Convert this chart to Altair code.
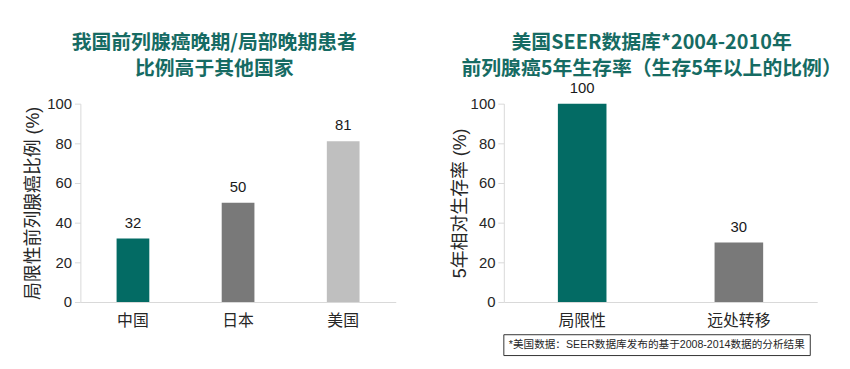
import altair as alt
import pandas as pd

# ---- data ----
left_title = ["我国前列腺癌晚期/局部晚期患者", "比例高于其他国家"]
left_cats = ["中国", "日本", "美国"]
left_vals = [32, 50, 81]
left_colors = ["#036B64", "#797979", "#BFBFBF"]
left_ytitle = "局限性前列腺癌比例 (%)"

right_title = ["美国SEER数据库*2004-2010年", "前列腺癌5年生存率（生存5年以上的比例）"]
right_cats = ["局限性", "远处转移"]
right_vals = [100, 30]
right_colors = ["#036B64", "#797979"]
right_ytitle = "5年相对生存率 (%)"

footnote = ["*美国数据：SEER数据库发布的基于2008-2014数据的分析结果"]
y_ticks = [0, 20, 40, 60, 80, 100]

FONT = "Liberation Sans, Noto Sans CJK SC, sans-serif"
TITLE_FONT = "Noto Sans CJK SC"
TEAL_TITLE = "#166B63"


def panel(cats, vals, colors, ytitle, title, width, barsize, dx, offset, tpad):
    df = pd.DataFrame({"cat": cats, "val": vals, "color": colors})
    base = alt.Chart(df).encode(
        x=alt.X(
            "cat:N",
            sort=cats,
            axis=alt.Axis(
                title=None, labelAngle=0, ticks=False, labelPadding=11,
                labelFontSize=16, labelColor="#262626", labelFont=FONT,
                domainColor="#D9D9D9",
            ),
        ),
        y=alt.Y(
            "val:Q",
            scale=alt.Scale(domain=[0, 100]),
            axis=alt.Axis(
                title=ytitle, values=y_ticks, grid=False, tickSize=6,
                tickColor="#D9D9D9", domainColor="#D9D9D9", labelPadding=3,
                labelFontSize=15, labelColor="#262626", labelFont=FONT,
                titleFontSize=18, titleFontWeight="normal", titleColor="#262626",
                titleFont=FONT, titlePadding=tpad,
            ),
        ),
    )
    bars = base.mark_bar(size=barsize).encode(color=alt.Color("color:N", scale=None))
    text = base.mark_text(dy=-11, baseline="alphabetic", fontSize=15, font=FONT,
                          color="#1a1a1a").encode(text="val:Q")
    return alt.layer(bars, text).properties(
        width=width,
        height=200,
        title=alt.TitleParams(
            text=title, fontSize=20, font=TITLE_FONT, fontWeight="bold",
            color=TEAL_TITLE, anchor="middle", frame="group", dx=dx,
            offset=offset, lineHeight=26,
        ),
    )


left = panel(left_cats, left_vals, left_colors, left_ytitle, left_title,
             318, 33, -24, 18, 4)

right_base = panel(right_cats, right_vals, right_colors, right_ytitle, right_title,
                   316, 49, -9, 2, 1)

fn_df = pd.DataFrame({"t": footnote})
fn_box = alt.Chart(fn_df).mark_rect(fillOpacity=0, stroke="#333333", strokeWidth=1).encode(
    x=alt.value(0), x2=alt.value(309), y=alt.value(233), y2=alt.value(254)
)
fn_text = alt.Chart(fn_df).mark_text(align="left", baseline="middle", fontSize=10.7,
                                     font=FONT, color="#262626").encode(
    x=alt.value(5), y=alt.value(243.5), text="t:N"
)

right = alt.layer(right_base, fn_box, fn_text)

chart = alt.hconcat(left, right, spacing=55).properties(
    padding={"left": 16, "top": 24, "right": 0, "bottom": 0}
).configure_view(stroke=None)

chart.save("out.html", embed_options={"renderer": "svg", "actions": False})
